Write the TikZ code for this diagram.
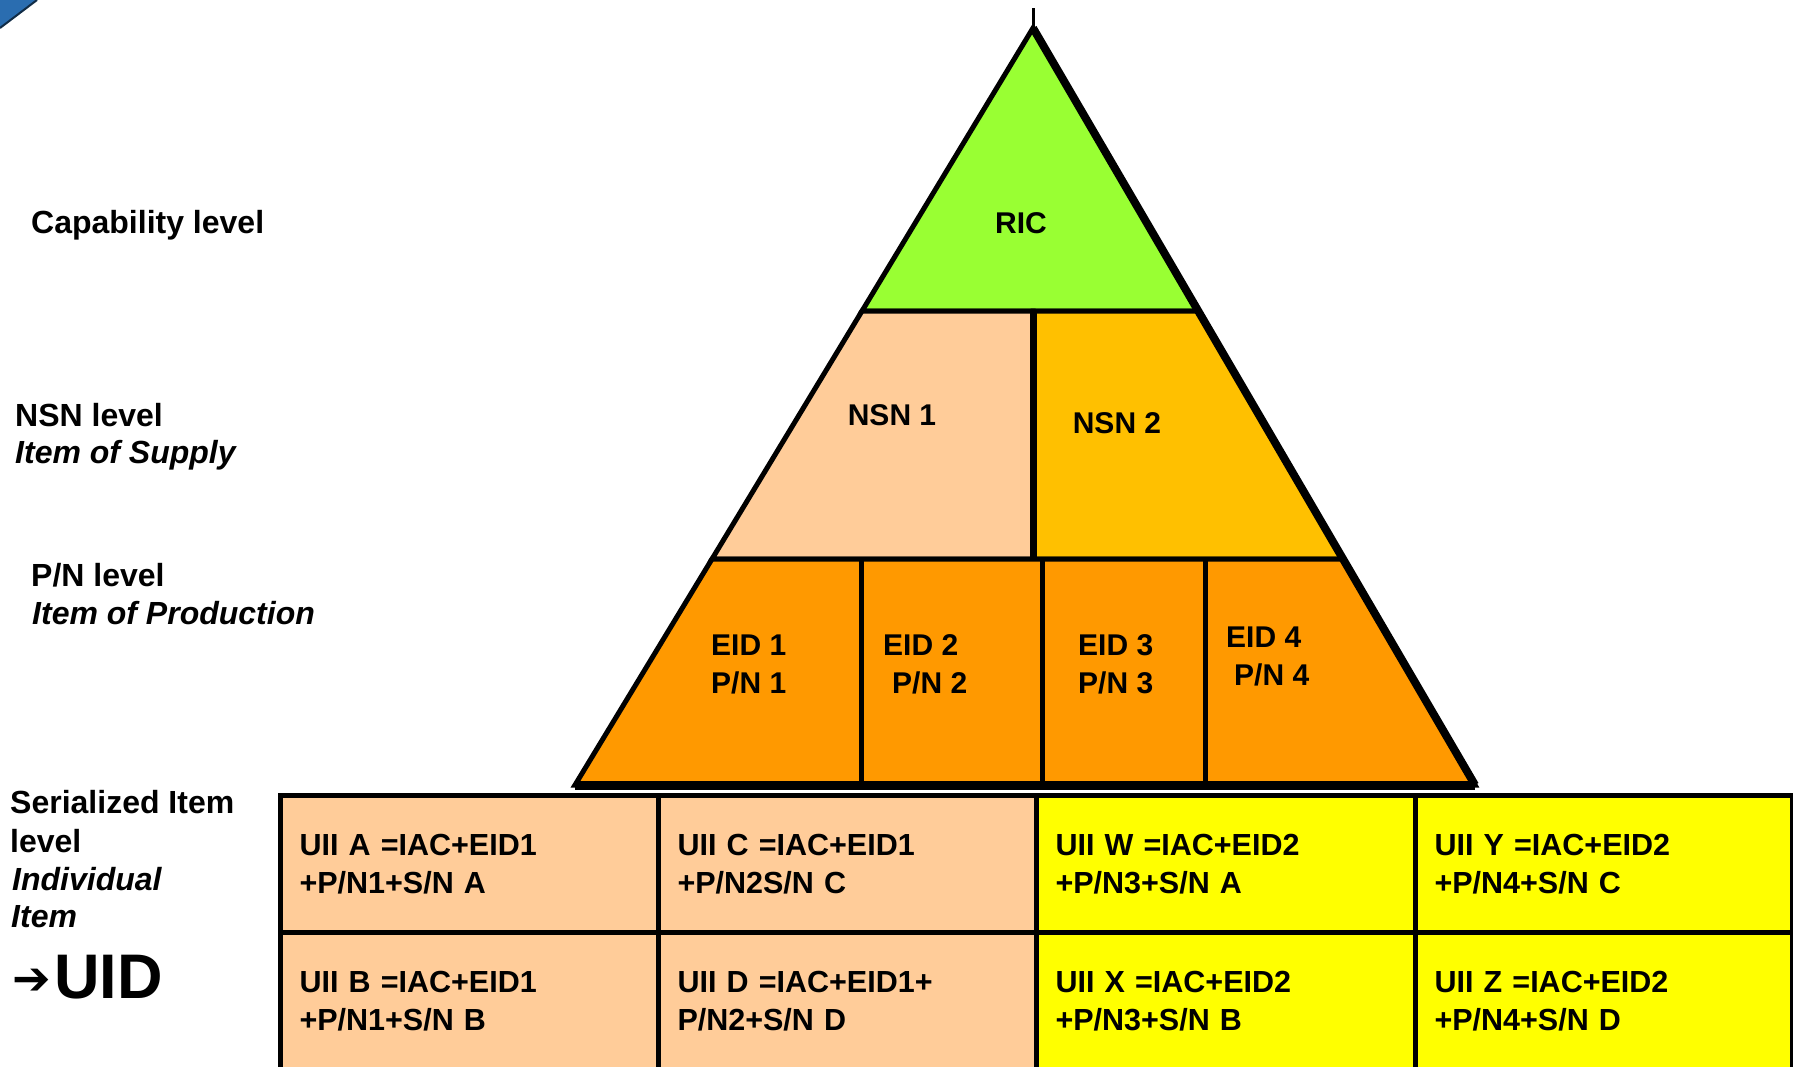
\documentclass[tikz,border=0pt]{standalone}
\usepackage{fontspec}
\setmainfont{Liberation Sans}
\newfontfamily\arrowfont{DejaVu Sans}
\definecolor{ricgreen}{HTML}{99FF33}
\definecolor{peach}{HTML}{FFCC99}
\definecolor{gold}{HTML}{FFC000}
\definecolor{eidorange}{HTML}{FF9900}
\definecolor{uiiyellow}{HTML}{FFFF00}
\definecolor{cornerblue}{HTML}{2A6DB0}
\tikzset{
  part/.style={draw=black, line width=5pt, line join=miter},
  bftext/.style={font=\fontsize{30}{38}\selectfont\bfseries, inner sep=0pt},
  lbl/.style={font=\fontsize{32}{38}\selectfont\bfseries, inner sep=0pt, anchor=base west},
  ilbl/.style={font=\fontsize{32}{38}\selectfont\bfseries\itshape, inner sep=0pt, anchor=base west},
  blocktext/.style={bftext, align=left, anchor=west},
  uii/.style={draw=black, line width=5pt, minimum height=137pt, inner xsep=19pt, inner ysep=0pt,
    font=\fontsize{30.5}{38}\selectfont\bfseries, align=left, anchor=north west},
}
\begin{document}
\begin{tikzpicture}[x=1pt,y=-1pt]
\useasboundingbox (0,0) rectangle (1793,1066);
% corner decoration
\fill[cornerblue] (0,0) -- (37,0) -- (0,28) -- cycle;
\draw[cornerblue!40!black, line width=2pt] (37,0) -- (0,28);
% pyramid coordinates
\coordinate (apex) at (1033,28);
\coordinate (tip) at (1033,8);
\coordinate (rl) at (862,311);
\coordinate (rm) at (1033,311);
\coordinate (rr) at (1198,311);
\coordinate (nl) at (712,559);
\coordinate (nm) at (1033,559);
\coordinate (nr) at (1343,559);
\coordinate (bl) at (575,785);
\coordinate (br) at (1475,785);
\coordinate (d1t) at (861,559);  \coordinate (d1b) at (861,785);
\coordinate (d2t) at (1042,559); \coordinate (d2b) at (1042,785);
\coordinate (d3t) at (1205,559); \coordinate (d3b) at (1205,785);
% pyramid parts
\filldraw[part, fill=ricgreen] (apex) -- (rr) -- (rl) -- cycle;
\filldraw[part, fill=peach] (rl) -- (rm) -- (nm) -- (nl) -- cycle;
\filldraw[part, fill=gold] (rm) -- (rr) -- (nr) -- (nm) -- cycle;
\filldraw[part, fill=eidorange] (nl) -- (nr) -- (br) -- (bl) -- cycle;
\draw[part] (d1t) -- (d1b);
\draw[part] (d2t) -- (d2b);
\draw[part] (d3t) -- (d3b);
\draw[line width=7pt] (rm) -- (nm);
\draw[line width=8pt] (apex) -- (br);
\draw[line width=9pt] (bl) -- (br);
\draw[line width=3pt] (apex) -- (tip);
% pyramid texts
\node[bftext] (ric) at (1021,223) {RIC};
\node[bftext] (nsn1) at (892,415) {NSN 1};
\node[bftext] (nsn2) at (1117,423) {NSN 2};
\node[blocktext] (eid1) at (711,664) {EID 1\\P/N 1};
\node[blocktext] (eid2) at (883,664) {EID 2\\\hspace*{9pt}P/N 2};
\node[blocktext] (eid3) at (1078,664) {EID 3\\P/N 3};
\node[blocktext] (eid4) at (1226,656) {EID 4\\\hspace*{8pt}P/N 4};
% UII grid
\node[uii, fill=peach, minimum width=378pt, text width=340pt] (ua) at (278,793) {UII A =IAC+EID1\\+P/N1+S/N A};
\node[uii, fill=peach, minimum width=378pt, text width=340pt] (uc) at (656,793) {UII C =IAC+EID1\\+P/N2S/N C};
\node[uii, fill=uiiyellow, minimum width=379pt, text width=341pt] (uw) at (1034,793) {UII W =IAC+EID2\\+P/N3+S/N A};
\node[uii, fill=uiiyellow, minimum width=377pt, text width=339pt] (uy) at (1413,793) {UII Y =IAC+EID2\\+P/N4+S/N C};
\node[uii, fill=peach, minimum width=378pt, text width=340pt] (ub) at (278,930) {UII B =IAC+EID1\\+P/N1+S/N B};
\node[uii, fill=peach, minimum width=378pt, text width=340pt] (ud) at (656,930) {UII D =IAC+EID1+\\P/N2+S/N D};
\node[uii, fill=uiiyellow, minimum width=379pt, text width=341pt] (ux) at (1034,930) {UII X =IAC+EID2\\+P/N3+S/N B};
\node[uii, fill=uiiyellow, minimum width=377pt, text width=339pt] (uz) at (1413,930) {UII Z =IAC+EID2\\+P/N4+S/N D};
% left labels
\node[lbl] (cap) at (31,233) {Capability level};
\node[lbl] (nsnl) at (15,426) {NSN level};
\node[ilbl] (supply) at (15,463) {Item of Supply};
\node[lbl] (pnl) at (31,586) {P/N level};
\node[ilbl] (prod) at (32,624) {Item of Production};
\node[lbl] (ser1) at (10,813) {Serialized Item};
\node[lbl] (ser2) at (10,852) {level};
\node[ilbl] (ser3) at (12,890) {Individual};
\node[ilbl] (ser4) at (11,927) {Item};
\node[font=\arrowfont\bfseries\fontsize{46}{46}\selectfont, inner sep=0pt, anchor=west] (arr) at (12,982) {➔};
\node[font=\fontsize{63}{63}\selectfont\bfseries, inner sep=0pt, anchor=base west] (uid) at (54,998) {UID};
\end{tikzpicture}
\end{document}
